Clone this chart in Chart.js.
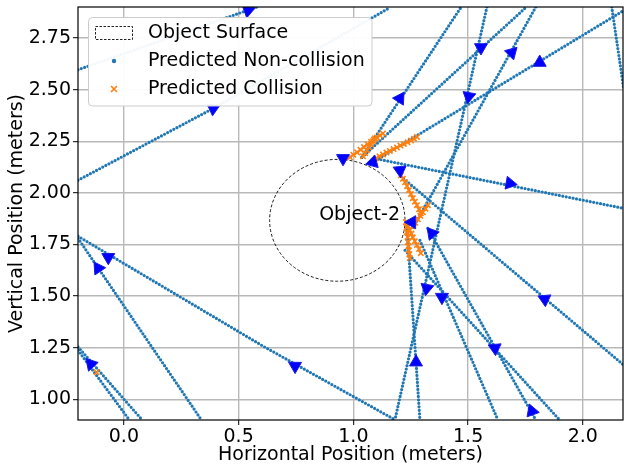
<!DOCTYPE html>
<html>
<head>
<meta charset="utf-8">
<script src="https://cdn.jsdelivr.net/npm/chart.js@4.4.1/dist/chart.umd.min.js"></script>
<style>
  html, body { margin: 0; padding: 0; background: #fff; }
  canvas { display: block; }
</style>
</head>
<body>
<canvas id="trajChart" width="624" height="468"></canvas>
<script>
// Axes
const xTickValues = [0.0, 0.5, 1.0, 1.5, 2.0];
const xTickLabels = ['0.0', '0.5', '1.0', '1.5', '2.0'];
const yTickValues = [1.00, 1.25, 1.50, 1.75, 2.00, 2.25, 2.50, 2.75];
const yTickLabels = ['1.00', '1.25', '1.50', '1.75', '2.00', '2.25', '2.50', '2.75'];
const xRange = [-0.2, 2.175];
const yRange = [0.9, 2.9];

// Object surface
const objectCenter = [0.93, 1.867];
const objectRadius = 0.295;
const objectLabel = 'Object-2';
const objectLabelPos = [1.027, 1.894];

const legendLabels = ['Object Surface', 'Predicted Non-collision', 'Predicted Collision'];

// Predicted non-collision trajectories (x, y in meters)
const path01 = [[-0.2, 1.79], [0.606, 1.258], [1.183, 0.9]];
const path02 = [[-0.2, 1.78], [0.338, 0.9]];
const path03 = [[-0.2, 1.254], [0.08, 0.9]];
const path04 = [[-0.2, 1.238], [0.024, 0.9]];
const path05 = [[-0.2, 2.061], [0.389, 2.409], [1.159, 2.897]];
const path06 = [[-0.2, 2.596], [0.58, 2.9]];
const path07 = [[1.037, 2.172], [1.468, 2.897]];
const path08 = [[1.037, 2.172], [1.751, 2.897]];
const path09 = [[1.582, 2.9], [1.181, 0.9]];
const path10 = [[1.795, 2.9], [1.259, 1.828]];
const path11 = [[1.099, 2.158], [2.178, 2.883]];
const path12 = [[2.126, 2.9], [2.178, 2.505]];
const path13 = [[1.090, 2.167], [2.178, 1.925]];
const path14 = [[1.207, 2.080], [2.178, 1.166]];
const path15 = [[1.233, 1.843], [1.290, 0.9]];
const path16 = [[1.225, 1.722], [1.899, 0.9]];
const path17 = [[1.325, 1.828], [1.795, 0.9]];
const path18 = [[1.290, 1.770], [1.630, 0.9]];

// Predicted collision points
const hit01 = [[0.985, 2.172], [1.000, 2.184], [1.016, 2.196], [1.031, 2.209], [1.046, 2.222], [1.062, 2.235],
               [1.077, 2.247], [1.090, 2.258], [1.103, 2.268], [1.116, 2.278], [1.129, 2.288]];
const hit02 = [[1.042, 2.177], [1.051, 2.192], [1.059, 2.206], [1.068, 2.221], [1.077, 2.235], [1.086, 2.250], [1.094, 2.264]];
const hit03 = [[1.099, 2.167], [1.114, 2.177], [1.129, 2.186], [1.144, 2.195], [1.159, 2.203], [1.175, 2.212], [1.190, 2.220],
               [1.205, 2.229], [1.220, 2.237], [1.236, 2.245], [1.251, 2.253], [1.264, 2.262], [1.277, 2.271]];
const hit04 = [[1.207, 2.085], [1.216, 2.068], [1.225, 2.051], [1.234, 2.032], [1.242, 2.013], [1.251, 1.994],
               [1.259, 1.974], [1.268, 1.957], [1.277, 1.940], [1.286, 1.920], [1.294, 1.901]];
const hit05 = [[1.229, 1.858], [1.238, 1.839], [1.246, 1.819], [1.253, 1.802], [1.259, 1.785], [1.268, 1.766],
               [1.277, 1.747], [1.286, 1.728], [1.294, 1.708]];
const hit06 = [[1.233, 1.858], [1.233, 1.834], [1.233, 1.810], [1.236, 1.786], [1.238, 1.761], [1.240, 1.742],
               [1.242, 1.722], [1.244, 1.703], [1.246, 1.684]];
const hit07 = [[1.325, 1.940], [1.314, 1.923], [1.303, 1.906], [1.292, 1.889], [1.281, 1.872], [1.270, 1.855], [1.259, 1.838]];
const hit08 = [[-0.119, 1.131]];

// Direction arrows (heading in degrees, 0 = up, clockwise)
const arrowX = [-0.068, 0.746, -0.112, -0.144, 0.389, 0.541, 1.203, 1.556, 1.503, 1.690, 1.812, 1.682,
                1.085, 0.955, 1.203, 1.255, 1.342, 1.834, 1.617, 1.778, 1.386, 1.320, 1.273];
const arrowY = [1.688, 1.161, 1.635, 1.171, 2.409, 2.883, 2.457, 2.704, 2.467, 2.679, 2.631, 2.046,
                2.148, 2.167, 2.109, 1.858, 1.804, 1.485, 1.248, 0.943, 1.495, 1.538, 1.180];
const arrowHeading = [300, 300, 326, 318, 65, 70, 33, 60, 190, 165, 240, 100,
                      255, 180, 175, 150, 320, 295, 295, 340, 300, 190, 0];

const nonCollisionPaths = [path01, path02, path03, path04, path05, path06, path07, path08, path09,
  path10, path11, path12, path13, path14, path15, path16, path17, path18];
const collisionPaths = [hit01, hit02, hit03, hit04, hit05, hit06, hit07, hit08];

const FONT = 'DejaVu Sans';
const FONT_SIZE = 19;
Chart.defaults.font.family = FONT;
Chart.defaults.color = '#000';

const toXY = p => p.map(([x, y]) => ({ x, y }));

const datasets = [];
datasets.push({
  data: arrowX.map((x, i) => ({ x, y: arrowY[i] })),
  pointStyle: 'triangle',
  pointRadius: 7.5,
  pointHoverRadius: 7.5,
  pointRotation: ctx => arrowHeading[ctx.dataIndex],
  backgroundColor: '#0000ff',
  borderColor: '#1a1ae6',
  pointBorderWidth: 1,
  showLine: false,
  clip: 0,
  order: 0
});
collisionPaths.forEach(p => datasets.push({
  data: toXY(p),
  showLine: p.length > 1,
  borderColor: '#ff7f0e',
  borderWidth: 2.2,
  borderDash: [2.5, 1.2],
  backgroundColor: '#ff7f0e',
  pointStyle: 'crossRot',
  pointRadius: 3.8,
  pointHoverRadius: 3.8,
  pointBorderColor: '#ff7f0e',
  pointBorderWidth: 1.6,
  tension: 0,
  clip: 0,
  order: 1
}));
nonCollisionPaths.forEach(p => datasets.push({
  data: toXY(p),
  showLine: true,
  borderColor: '#1f77b4',
  borderWidth: 3.2,
  borderDash: [0, 3.5],
  borderCapStyle: 'round',
  pointRadius: 0,
  pointHoverRadius: 0,
  tension: 0,
  fill: false,
  clip: 0,
  order: 2
}));

// Surface, label, frame and legend
const overlay = {
  id: 'overlay',
  beforeDatasetsDraw(chart) {
    const { ctx, chartArea: a, scales: { x, y } } = chart;
    const cx = x.getPixelForValue(objectCenter[0]);
    const cy = y.getPixelForValue(objectCenter[1]);
    const rx = x.getPixelForValue(objectCenter[0] + objectRadius) - cx;
    const ry = cy - y.getPixelForValue(objectCenter[1] + objectRadius);
    ctx.save();
    ctx.beginPath();
    ctx.rect(a.left, a.top, a.right - a.left, a.bottom - a.top);
    ctx.clip();
    ctx.beginPath();
    ctx.ellipse(cx, cy, rx, ry, 0, 0, Math.PI * 2);
    ctx.setLineDash([3, 2]);
    ctx.lineWidth = 0.9;
    ctx.strokeStyle = '#000';
    ctx.stroke();
    ctx.restore();
  },
  afterDatasetsDraw(chart) {
    const { ctx, chartArea: a, scales: { x, y } } = chart;
    ctx.save();
    // label
    ctx.font = FONT_SIZE + 'px "' + FONT + '"';
    ctx.fillStyle = '#000';
    ctx.textAlign = 'center';
    ctx.textBaseline = 'middle';
    ctx.fillText(objectLabel, x.getPixelForValue(objectLabelPos[0]), y.getPixelForValue(objectLabelPos[1]));
    // frame
    ctx.strokeStyle = '#000';
    ctx.lineWidth = 1.2;
    ctx.strokeRect(a.left, a.top, a.right - a.left, a.bottom - a.top);
    // legend
    ctx.beginPath();
    ctx.roundRect(88.5, 17.5, 283.5, 88.5, 4);
    ctx.fillStyle = 'rgba(255,255,255,0.95)';
    ctx.fill();
    ctx.strokeStyle = '#cccccc';
    ctx.lineWidth = 1;
    ctx.stroke();
    ctx.setLineDash([2.5, 1.5]);
    ctx.strokeStyle = '#222';
    ctx.strokeRect(95.5, 26.5, 37, 13);
    ctx.setLineDash([]);
    ctx.beginPath();
    ctx.arc(114, 61, 2.2, 0, Math.PI * 2);
    ctx.fillStyle = '#1f77b4';
    ctx.fill();
    ctx.beginPath();
    ctx.moveTo(111, 86); ctx.lineTo(117, 92);
    ctx.moveTo(117, 86); ctx.lineTo(111, 92);
    ctx.strokeStyle = '#ff7f0e';
    ctx.lineWidth = 1.6;
    ctx.stroke();
    ctx.fillStyle = '#000';
    ctx.textAlign = 'left';
    ctx.textBaseline = 'middle';
    [33, 61, 89].forEach((ty, i) => ctx.fillText(legendLabels[i], 148, ty));
    ctx.restore();
  }
};

const ctx = document.getElementById('trajChart').getContext('2d');
const chart = new Chart(ctx, {
  type: 'scatter',
  data: { datasets },
  options: {
    responsive: false,
    animation: false,
    devicePixelRatio: 1,
    layout: { autoPadding: false, padding: { top: 7, right: 1, left: 0, bottom: 0 } },
    plugins: { legend: { display: false }, tooltip: { enabled: false } },
    scales: {
      x: {
        type: 'linear',
        min: xRange[0],
        max: xRange[1],
        afterBuildTicks: s => { s.ticks = xTickValues.map(v => ({ value: v })); },
        afterFit: s => { s.height = 48; s.paddingLeft = 0; s.paddingRight = 0; },
        ticks: {
          font: { size: FONT_SIZE },
          color: '#000',
          padding: 1,
          maxRotation: 0,
          callback: v => xTickLabels[xTickValues.indexOf(v)]
        },
        grid: { color: '#b8b8b8', lineWidth: 1.4, tickLength: 5, tickColor: '#000', tickWidth: 1 },
        border: { display: false },
        title: { display: true, text: 'Horizontal Position (meters)', font: { size: FONT_SIZE }, color: '#000', padding: { top: 0, bottom: 2 } }
      },
      y: {
        type: 'linear',
        min: yRange[0],
        max: yRange[1],
        afterBuildTicks: s => { s.ticks = yTickValues.map(v => ({ value: v })); },
        afterFit: s => { s.width = 78; s.paddingTop = 0; s.paddingBottom = 0; },
        ticks: {
          font: { size: FONT_SIZE },
          color: '#000',
          padding: 2,
          callback: v => yTickLabels[yTickValues.indexOf(v)]
        },
        grid: { color: '#b8b8b8', lineWidth: 1.4, tickLength: 5, tickColor: '#000', tickWidth: 1 },
        border: { display: false },
        title: { display: true, text: 'Vertical Position (meters)', font: { size: FONT_SIZE }, color: '#000', padding: { top: 6, bottom: 0 } }
      }
    }
  },
  plugins: [overlay]
});
</script>
</body>
</html>
